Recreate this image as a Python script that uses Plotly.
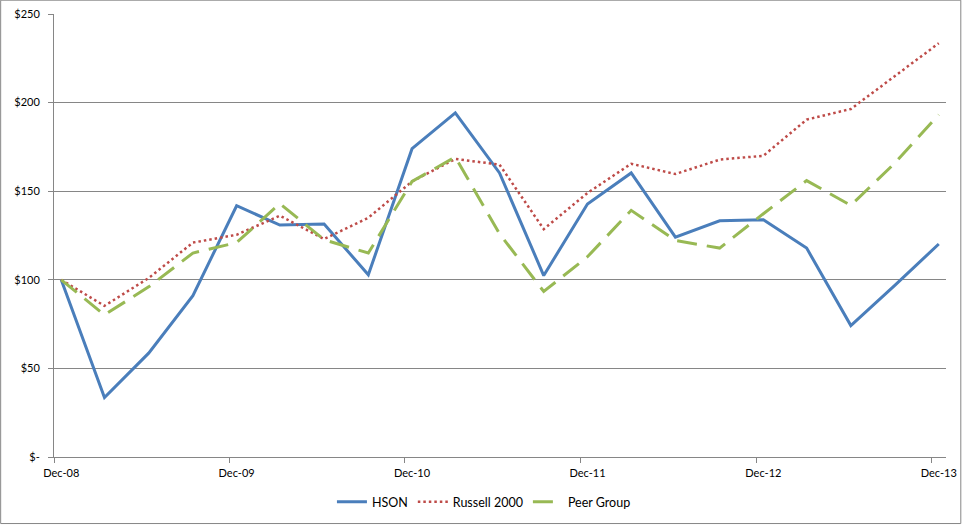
import pandas as pd
import plotly.graph_objects as go

# ---- data ----
quarters = pd.date_range("2008-12-01", "2013-12-01", freq="3MS")
hson = [100, 33.5, 58.6, 91, 141.8, 130.9, 131.5, 102.8, 174, 194.2, 160.3,
        102.4, 142.8, 160.3, 124.1, 133.3, 133.9, 117.9, 74.2, 97, 120.2]
russell = [100, 85.3, 101, 121, 125.4, 136.2, 123, 135, 155.5, 168.2, 165,
           128.6, 149, 165.5, 159.7, 167.8, 170, 190.4, 196.4, 215, 233.5]
peer = [100, 80.2, 96, 115.1, 121, 143, 122.6, 115.1, 155.5, 169.3, 126,
        93.4, 113, 139.2, 122.2, 117.9, 137.3, 156, 142, 166, 193.2]
x_labels = ["Dec-08", "Dec-09", "Dec-10", "Dec-11", "Dec-12", "Dec-13"]
y_vals = [0, 50, 100, 150, 200, 250]
y_labels = ["$-", "$50", "$100", "$150", "$200", "$250"]

half = pd.Timedelta(days=15)
label_pos = list(quarters[::4])
tick_pos = [d - half for d in label_pos]

FONT = "Lato, 'Liberation Sans', sans-serif"
GRID = "#868686"

fig = go.Figure()
fig.add_trace(go.Scatter(x=quarters, y=hson, name="HSON", mode="lines",
                         line=dict(color="#4A7EBB", width=3)))
fig.add_trace(go.Scatter(x=quarters, y=russell, name="Russell 2000", mode="lines",
                         line=dict(color="#BE4B48", width=2.5, dash="2.5px,3px")))
fig.add_trace(go.Scatter(x=quarters, y=peer, name="Peer Group", mode="lines",
                         line=dict(color="#98B954", width=3, dash="20px,10px")))

fig.update_layout(
    width=976, height=529,
    margin=dict(l=54, r=30, t=14, b=72, autoexpand=False),
    paper_bgcolor="white", plot_bgcolor="white",
    font=dict(family=FONT, size=11, color="#000000"),
    showlegend=True,
    legend=dict(orientation="h", x=0.482, xanchor="center", y=-0.102, yanchor="middle",
                font=dict(family=FONT, size=12.5, color="#000000"),
                itemwidth=30, bgcolor="rgba(0,0,0,0)"),
    xaxis=dict(
        type="date", automargin=False,
        range=[quarters[0] - half, quarters[-1] + half],
        tickmode="array", tickvals=label_pos, ticktext=x_labels,
        ticks="", showgrid=False, zeroline=False,
        showline=True, linecolor=GRID, linewidth=1,
        tickfont=dict(family=FONT, size=11),
        minor=dict(tickmode="array", tickvals=tick_pos, ticks="outside",
                   ticklen=5, tickcolor=GRID, showgrid=False),
        ticklabelstandoff=6,
    ),
    yaxis=dict(
        range=[0, 250], automargin=False,
        tickmode="array", tickvals=y_vals, ticktext=y_labels,
        ticks="outside", ticklen=5, tickcolor=GRID,
        showgrid=True, gridcolor=GRID, gridwidth=1,
        zeroline=False, showline=True, linecolor=GRID, linewidth=1,
        tickfont=dict(family=FONT, size=11),
        ticklabelstandoff=6,
    ),
    shapes=[dict(type="rect", xref="paper", yref="paper",
                 x0=(1 - 54.3) / 891.4, x1=(960.5 - 54.3) / 891.4,
                 y0=(457 - 523.5) / 442.7, y1=(457 - 0.5) / 442.7,
                 line=dict(color=GRID, width=1), layer="below")],
)

fig.write_html("out.html", config={"displayModeBar": False},
               post_script="document.body.style.margin='0';document.body.style.padding='0';")
